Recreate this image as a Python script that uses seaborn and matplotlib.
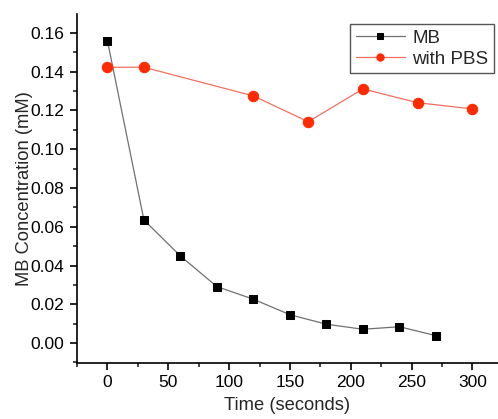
import matplotlib
matplotlib.use("Agg")
import matplotlib.pyplot as plt
import seaborn as sns
import pandas as pd
from matplotlib.ticker import MultipleLocator

sns.set_style("ticks")
plt.rcParams['font.family'] = ['Liberation Sans', 'DejaVu Sans']

mb_time = [0, 30, 60, 90, 120, 150, 180, 210, 240, 270]
mb_conc = [0.156, 0.0635, 0.0449, 0.0291, 0.0226, 0.0146, 0.0097, 0.0071, 0.0084, 0.0038]
pbs_time = [0, 30, 120, 165, 210, 255, 300]
pbs_conc = [0.1423, 0.1423, 0.1275, 0.1142, 0.1311, 0.1240, 0.1208]

df_mb = pd.DataFrame({"t": mb_time, "c": mb_conc})
df_pbs = pd.DataFrame({"t": pbs_time, "c": pbs_conc})

fig = plt.figure(figsize=(4.98, 4.19), dpi=100)
ax = fig.add_axes([0.1546, 0.1337, 0.8454, 0.833])

sns.lineplot(data=df_mb, x="t", y="c", ax=ax, color="#707070", linewidth=0.9,
             marker="s", markersize=6, markerfacecolor="black", markeredgecolor="black",
             label="MB")
sns.lineplot(data=df_pbs, x="t", y="c", ax=ax, color="#f07060", linewidth=0.9,
             marker="o", markersize=7.5, markerfacecolor="#ff2a00", markeredgecolor="#ff2a00",
             label="with PBS")

ax.set_xlim(-25, 321)
ax.set_ylim(-0.0103, 0.1698)
ax.xaxis.set_major_locator(MultipleLocator(50))
ax.xaxis.set_minor_locator(MultipleLocator(25))
ax.yaxis.set_major_locator(MultipleLocator(0.02))
ax.yaxis.set_minor_locator(MultipleLocator(0.01))
ax.yaxis.set_major_formatter(matplotlib.ticker.FormatStrFormatter('%.2f'))
ax.tick_params(axis='both', which='major', direction='out', length=5, width=1.2, labelsize=12.5,
               colors='black', pad=4)
ax.tick_params(axis='both', which='minor', direction='out', length=3, width=1.2)

for s in ['top', 'right']:
    ax.spines[s].set_visible(False)
for s in ['left', 'bottom']:
    ax.spines[s].set_linewidth(1.2)
    ax.spines[s].set_color('black')

ax.set_xlabel("Time (seconds)", fontsize=13.2, labelpad=5)
ax.set_ylabel("MB Concentration (mM)", fontsize=13.2, labelpad=-2)

leg = ax.legend(loc="upper right", bbox_to_anchor=(0.990, 0.971), fontsize=13.5, frameon=True,
                fancybox=False, edgecolor="#555555", framealpha=1, borderpad=0.3,
                handlelength=2.6, labelspacing=0.2, handletextpad=0.4, borderaxespad=0,
                markerscale=0.7)
leg.get_frame().set_linewidth(1.0)

fig.savefig("out.png", dpi=100)
